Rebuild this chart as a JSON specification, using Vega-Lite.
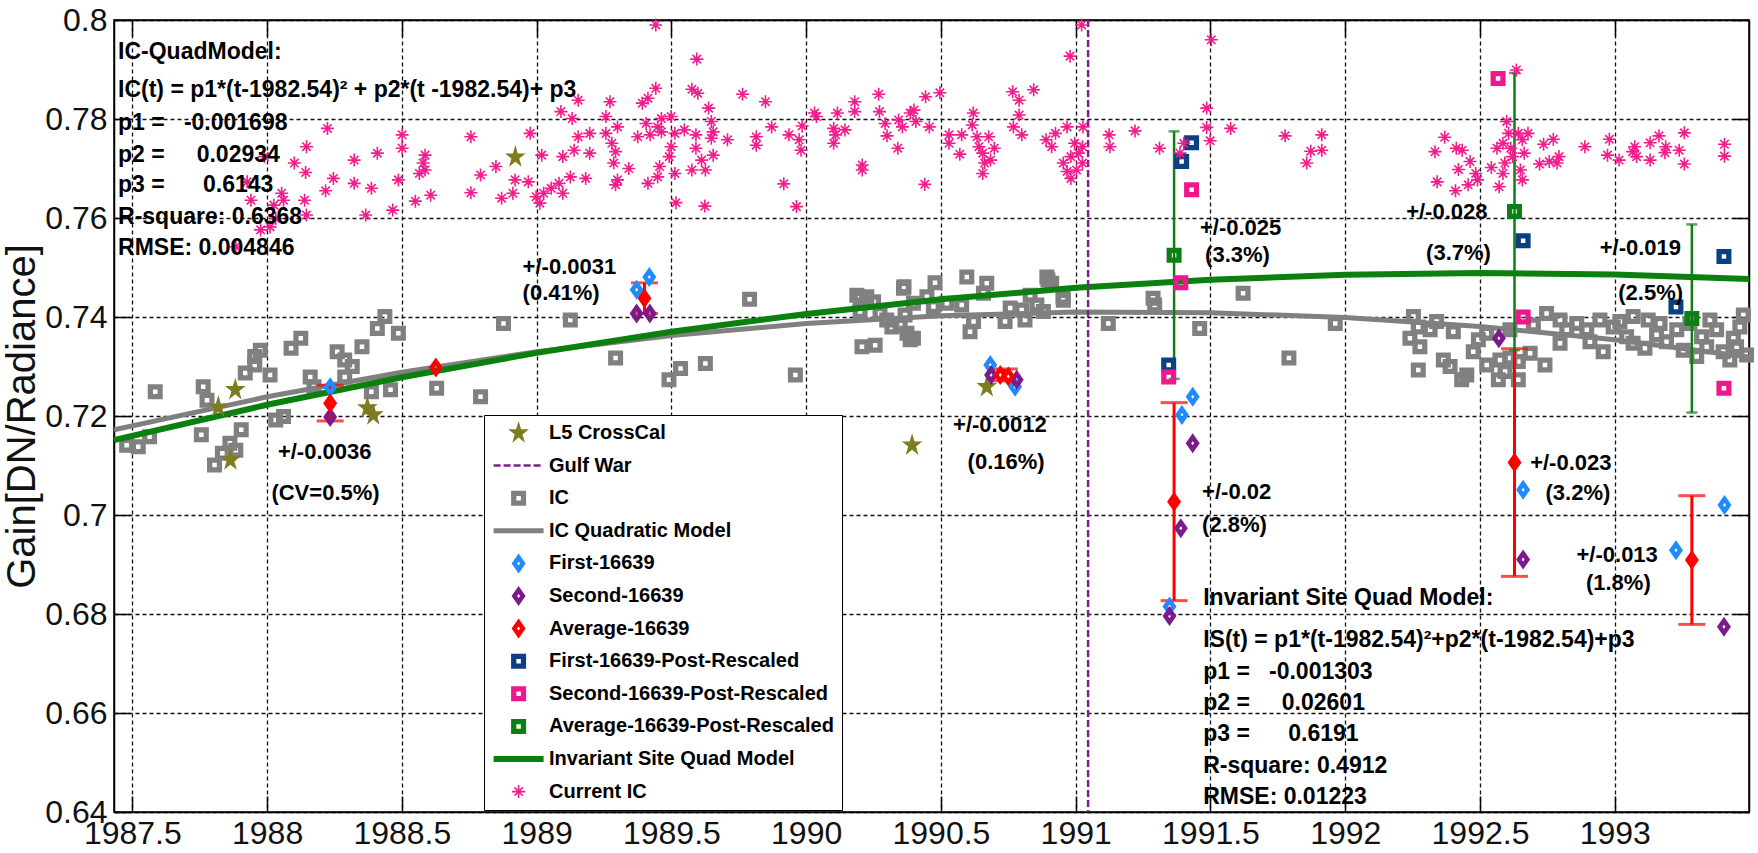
{
  "$schema": "https://vega.github.io/schema/vega-lite/v6.json",
  "width": 1635,
  "height": 792,
  "autosize": {"type": "none"},
  "padding": {"left": 114, "top": 20, "right": 9, "bottom": 41},
  "background": "#ffffff",
  "config": {
    "view": {"stroke": "#000000", "strokeWidth": 1.5}
  },
  "resolve": {"axis": {"x": "independent", "y": "independent"}},
  "datasets": {
    "ic": [
      {"series":"IC","year":1987.585,"gain":0.7249},{"series":"IC","year":1987.479,"gain":0.7141},{"series":"IC","year":1987.522,"gain":0.7138},
      {"series":"IC","year":1987.564,"gain":0.7158},{"series":"IC","year":1987.763,"gain":0.7259},{"series":"IC","year":1987.777,"gain":0.7232},
      {"series":"IC","year":1987.756,"gain":0.7162},{"series":"IC","year":1987.805,"gain":0.7101},{"series":"IC","year":1987.834,"gain":0.7125},
      {"series":"IC","year":1987.862,"gain":0.7145},{"series":"IC","year":1987.884,"gain":0.7131},{"series":"IC","year":1987.904,"gain":0.7172},
      {"series":"IC","year":1987.919,"gain":0.7287},{"series":"IC","year":1987.954,"gain":0.7303},{"series":"IC","year":1987.975,"gain":0.7333},
      {"series":"IC","year":1987.954,"gain":0.732},{"series":"IC","year":1988.011,"gain":0.7283},{"series":"IC","year":1988.032,"gain":0.7192},
      {"series":"IC","year":1988.061,"gain":0.7199},{"series":"IC","year":1988.089,"gain":0.7337},{"series":"IC","year":1988.125,"gain":0.7357},
      {"series":"IC","year":1988.16,"gain":0.7279},{"series":"IC","year":1988.174,"gain":0.7259},{"series":"IC","year":1988.26,"gain":0.733},
      {"series":"IC","year":1988.288,"gain":0.7313},{"series":"IC","year":1988.316,"gain":0.73},{"series":"IC","year":1988.352,"gain":0.734},
      {"series":"IC","year":1988.387,"gain":0.7249},{"series":"IC","year":1988.409,"gain":0.7377},{"series":"IC","year":1988.437,"gain":0.7401},
      {"series":"IC","year":1988.458,"gain":0.7253},{"series":"IC","year":1988.487,"gain":0.7367},{"series":"IC","year":1988.629,"gain":0.7256},
      {"series":"IC","year":1988.792,"gain":0.7239},{"series":"IC","year":1988.877,"gain":0.7387},{"series":"IC","year":1989.125,"gain":0.7394},
      {"series":"IC","year":1988.288,"gain":0.7279},{"series":"IC","year":1989.293,"gain":0.7317},{"series":"IC","year":1989.491,"gain":0.7273},
      {"series":"IC","year":1989.534,"gain":0.7296},{"series":"IC","year":1989.626,"gain":0.7306},{"series":"IC","year":1989.79,"gain":0.7436},
      {"series":"IC","year":1989.96,"gain":0.7283},{"series":"IC","year":1990.207,"gain":0.734},{"series":"IC","year":1990.256,"gain":0.7343},
      {"series":"IC","year":1990.2,"gain":0.7438},{"series":"IC","year":1990.225,"gain":0.7441},{"series":"IC","year":1990.25,"gain":0.7431},
      {"series":"IC","year":1990.299,"gain":0.7394},{"series":"IC","year":1990.349,"gain":0.7384},{"series":"IC","year":1990.374,"gain":0.7367},
      {"series":"IC","year":1990.398,"gain":0.7357},{"series":"IC","year":1990.361,"gain":0.7458},{"series":"IC","year":1990.398,"gain":0.7428},
      {"series":"IC","year":1990.448,"gain":0.7441},{"series":"IC","year":1990.478,"gain":0.7469},{"series":"IC","year":1990.472,"gain":0.7421},
      {"series":"IC","year":1990.522,"gain":0.7428},{"series":"IC","year":1990.596,"gain":0.7481},{"series":"IC","year":1990.577,"gain":0.7424},
      {"series":"IC","year":1990.621,"gain":0.7391},{"series":"IC","year":1990.608,"gain":0.737},{"series":"IC","year":1990.67,"gain":0.7468},
      {"series":"IC","year":1990.658,"gain":0.7448},{"series":"IC","year":1990.738,"gain":0.7391},{"series":"IC","year":1990.757,"gain":0.7418},
      {"series":"IC","year":1990.812,"gain":0.7394},{"series":"IC","year":1990.8,"gain":0.7414},{"series":"IC","year":1990.831,"gain":0.7444},
      {"series":"IC","year":1990.856,"gain":0.7424},{"series":"IC","year":1990.893,"gain":0.7481},{"series":"IC","year":1990.911,"gain":0.7468},
      {"series":"IC","year":1990.88,"gain":0.7411},{"series":"IC","year":1990.954,"gain":0.7434},{"series":"IC","year":1991.121,"gain":0.7387},
      {"series":"IC","year":1991.293,"gain":0.7424},{"series":"IC","year":1991.46,"gain":0.7377},{"series":"IC","year":1991.621,"gain":0.7448},
      {"series":"IC","year":1991.791,"gain":0.7317},{"series":"IC","year":1991.963,"gain":0.7387},
      {"series":"IC","year":1992.253,"gain":0.7401},{"series":"IC","year":1992.271,"gain":0.738},{"series":"IC","year":1992.24,"gain":0.7357},
      {"series":"IC","year":1992.277,"gain":0.734},{"series":"IC","year":1992.271,"gain":0.7293},{"series":"IC","year":1992.315,"gain":0.7374},
      {"series":"IC","year":1992.339,"gain":0.7391},{"series":"IC","year":1992.364,"gain":0.7313},{"series":"IC","year":1992.389,"gain":0.73},
      {"series":"IC","year":1992.432,"gain":0.7273},{"series":"IC","year":1992.451,"gain":0.7283},{"series":"IC","year":1992.401,"gain":0.737},
      {"series":"IC","year":1992.475,"gain":0.733},{"series":"IC","year":1992.494,"gain":0.7354},{"series":"IC","year":1992.525,"gain":0.7303},
      {"series":"IC","year":1992.568,"gain":0.7273},{"series":"IC","year":1992.574,"gain":0.7313},{"series":"IC","year":1992.611,"gain":0.7317},
      {"series":"IC","year":1992.642,"gain":0.731},{"series":"IC","year":1992.642,"gain":0.7273},{"series":"IC","year":1992.593,"gain":0.729},
      {"series":"IC","year":1992.686,"gain":0.7327},{"series":"IC","year":1992.741,"gain":0.7303},{"series":"IC","year":1992.525,"gain":0.7367},
      {"series":"IC","year":1992.611,"gain":0.7374},{"series":"IC","year":1992.698,"gain":0.7384},{"series":"IC","year":1992.747,"gain":0.7407},
      {"series":"IC","year":1992.797,"gain":0.7394},{"series":"IC","year":1992.822,"gain":0.7374},{"series":"IC","year":1992.797,"gain":0.7347},
      {"series":"IC","year":1992.859,"gain":0.7387},{"series":"IC","year":1992.896,"gain":0.7374},{"series":"IC","year":1992.908,"gain":0.735},
      {"series":"IC","year":1992.945,"gain":0.7394},{"series":"IC","year":1992.957,"gain":0.733},{"series":"IC","year":1992.994,"gain":0.738},
      {"series":"IC","year":1993.019,"gain":0.7391},{"series":"IC","year":1993.044,"gain":0.736},{"series":"IC","year":1993.068,"gain":0.7347},
      {"series":"IC","year":1993.112,"gain":0.7337},{"series":"IC","year":1993.124,"gain":0.7394},{"series":"IC","year":1993.155,"gain":0.7364},
      {"series":"IC","year":1993.168,"gain":0.7387},{"series":"IC","year":1993.192,"gain":0.735},{"series":"IC","year":1993.23,"gain":0.7374},
      {"series":"IC","year":1993.254,"gain":0.7333},{"series":"IC","year":1993.322,"gain":0.736},{"series":"IC","year":1993.341,"gain":0.734},
      {"series":"IC","year":1993.378,"gain":0.7374},{"series":"IC","year":1993.402,"gain":0.733},{"series":"IC","year":1993.427,"gain":0.7313},
      {"series":"IC","year":1993.44,"gain":0.7357},{"series":"IC","year":1993.464,"gain":0.738},{"series":"IC","year":1993.477,"gain":0.7404},
      {"series":"IC","year":1993.489,"gain":0.7323},{"series":"IC","year":1993.353,"gain":0.7394},{"series":"IC","year":1993.279,"gain":0.7387},
      {"series":"IC","year":1993.068,"gain":0.7401},{"series":"IC","year":1993.452,"gain":0.734},{"series":"IC","year":1993.304,"gain":0.732},
      {"series":"IC","year":1990.363,"gain":0.7461},{"series":"IC","year":1990.897,"gain":0.7475},{"series":"IC","year":1990.953,"gain":0.744},
      {"series":"IC","year":1991.287,"gain":0.7438},{"series":"IC","year":1990.188,"gain":0.7444},{"series":"IC","year":1990.2,"gain":0.7411},
      {"series":"IC","year":1990.274,"gain":0.7407},{"series":"IC","year":1990.318,"gain":0.738},{"series":"IC","year":1990.386,"gain":0.7354},
      {"series":"IC","year":1990.367,"gain":0.7404}
    ],
    "current": [
      {"series":"Current IC","year":1989.154,"gain":0.7838},{"series":"Current IC","year":1989.09,"gain":0.7815},{"series":"Current IC","year":1989.132,"gain":0.7801},
      {"series":"Current IC","year":1988.224,"gain":0.7781},{"series":"Current IC","year":1988.501,"gain":0.7768},{"series":"Current IC","year":1988.501,"gain":0.7741},
      {"series":"Current IC","year":1988.756,"gain":0.7764},{"series":"Current IC","year":1988.976,"gain":0.7771},{"series":"Current IC","year":1988.146,"gain":0.7744},
      {"series":"Current IC","year":1988.409,"gain":0.7731},{"series":"Current IC","year":1988.323,"gain":0.7717},{"series":"Current IC","year":1988.101,"gain":0.7711},
      {"series":"Current IC","year":1988.586,"gain":0.7727},{"series":"Current IC","year":1988.579,"gain":0.7711},{"series":"Current IC","year":1989.019,"gain":0.7727},
      {"series":"Current IC","year":1988.586,"gain":0.7697},{"series":"Current IC","year":1987.99,"gain":0.7724},{"series":"Current IC","year":1988.143,"gain":0.7692},
      {"series":"Current IC","year":1988.246,"gain":0.768},{"series":"Current IC","year":1988.487,"gain":0.7677},{"series":"Current IC","year":1988.565,"gain":0.769},
      {"series":"Current IC","year":1988.792,"gain":0.7687},{"series":"Current IC","year":1988.849,"gain":0.7704},{"series":"Current IC","year":1988.92,"gain":0.7677},
      {"series":"Current IC","year":1988.969,"gain":0.7673},{"series":"Current IC","year":1988.323,"gain":0.767},{"series":"Current IC","year":1988.387,"gain":0.766},
      {"series":"Current IC","year":1988.217,"gain":0.7655},{"series":"Current IC","year":1988.756,"gain":0.7651},{"series":"Current IC","year":1988.55,"gain":0.7634},
      {"series":"Current IC","year":1988.607,"gain":0.7646},{"series":"Current IC","year":1988.87,"gain":0.764},{"series":"Current IC","year":1988.912,"gain":0.765},
      {"series":"Current IC","year":1988.998,"gain":0.7643},{"series":"Current IC","year":1989.026,"gain":0.765},{"series":"Current IC","year":1989.054,"gain":0.766},
      {"series":"Current IC","year":1989.083,"gain":0.767},{"series":"Current IC","year":1989.012,"gain":0.763},{"series":"Current IC","year":1989.097,"gain":0.765},
      {"series":"Current IC","year":1989.125,"gain":0.7683},{"series":"Current IC","year":1989.182,"gain":0.768},{"series":"Current IC","year":1989.097,"gain":0.7724},
      {"series":"Current IC","year":1989.139,"gain":0.7737},{"series":"Current IC","year":1989.197,"gain":0.7731},{"series":"Current IC","year":1989.154,"gain":0.7764},
      {"series":"Current IC","year":1989.197,"gain":0.7771},{"series":"Current IC","year":1988.054,"gain":0.765},{"series":"Current IC","year":1988.061,"gain":0.7636},
      {"series":"Current IC","year":1988.025,"gain":0.7626},{"series":"Current IC","year":1988.139,"gain":0.7636},{"series":"Current IC","year":1988.146,"gain":0.7606},
      {"series":"Current IC","year":1987.94,"gain":0.7636},{"series":"Current IC","year":1987.926,"gain":0.7673},{"series":"Current IC","year":1987.976,"gain":0.7576},
      {"series":"Current IC","year":1988.011,"gain":0.7582},{"series":"Current IC","year":1988.032,"gain":0.7599},{"series":"Current IC","year":1987.884,"gain":0.7542},
      {"series":"Current IC","year":1988.366,"gain":0.7606},{"series":"Current IC","year":1988.466,"gain":0.7616},
      {"series":"Current IC","year":1989.442,"gain":0.799},{"series":"Current IC","year":1989.594,"gain":0.7921},{"series":"Current IC","year":1989.576,"gain":0.786},
      {"series":"Current IC","year":1989.598,"gain":0.7852},{"series":"Current IC","year":1989.442,"gain":0.7862},{"series":"Current IC","year":1989.272,"gain":0.7835},
      {"series":"Current IC","year":1989.413,"gain":0.7842},{"series":"Current IC","year":1989.392,"gain":0.7832},{"series":"Current IC","year":1989.638,"gain":0.7822},
      {"series":"Current IC","year":1989.764,"gain":0.785},{"series":"Current IC","year":1989.849,"gain":0.7835},{"series":"Current IC","year":1989.257,"gain":0.7805},
      {"series":"Current IC","year":1989.3,"gain":0.7784},{"series":"Current IC","year":1989.257,"gain":0.7771},{"series":"Current IC","year":1989.279,"gain":0.7751},
      {"series":"Current IC","year":1989.293,"gain":0.7734},{"series":"Current IC","year":1989.286,"gain":0.7711},{"series":"Current IC","year":1989.342,"gain":0.77},
      {"series":"Current IC","year":1989.3,"gain":0.7677},{"series":"Current IC","year":1989.293,"gain":0.7667},{"series":"Current IC","year":1989.406,"gain":0.7791},
      {"series":"Current IC","year":1989.449,"gain":0.7784},{"series":"Current IC","year":1989.463,"gain":0.7801},{"series":"Current IC","year":1989.375,"gain":0.7764},
      {"series":"Current IC","year":1989.421,"gain":0.7768},{"series":"Current IC","year":1989.463,"gain":0.7774},{"series":"Current IC","year":1989.499,"gain":0.7805},
      {"series":"Current IC","year":1989.513,"gain":0.7771},{"series":"Current IC","year":1989.548,"gain":0.7778},{"series":"Current IC","year":1989.492,"gain":0.7724},
      {"series":"Current IC","year":1989.499,"gain":0.7744},{"series":"Current IC","year":1989.456,"gain":0.7704},{"series":"Current IC","year":1989.449,"gain":0.7683},
      {"series":"Current IC","year":1989.413,"gain":0.767},{"series":"Current IC","year":1989.513,"gain":0.769},{"series":"Current IC","year":1989.517,"gain":0.7631},
      {"series":"Current IC","year":1989.591,"gain":0.7768},{"series":"Current IC","year":1989.591,"gain":0.7741},{"series":"Current IC","year":1989.612,"gain":0.7717},
      {"series":"Current IC","year":1989.626,"gain":0.7697},{"series":"Current IC","year":1989.576,"gain":0.7697},{"series":"Current IC","year":1989.655,"gain":0.7774},
      {"series":"Current IC","year":1989.648,"gain":0.7761},{"series":"Current IC","year":1989.655,"gain":0.7727},{"series":"Current IC","year":1989.648,"gain":0.7795},
      {"series":"Current IC","year":1989.624,"gain":0.7624},{"series":"Current IC","year":1989.708,"gain":0.7758},{"series":"Current IC","year":1989.815,"gain":0.7764},
      {"series":"Current IC","year":1989.815,"gain":0.7747},{"series":"Current IC","year":1989.872,"gain":0.7784},{"series":"Current IC","year":1989.936,"gain":0.7768},
      {"series":"Current IC","year":1989.917,"gain":0.7669},{"series":"Current IC","year":1989.964,"gain":0.7623},{"series":"Current IC","year":1989.974,"gain":0.7758},
      {"series":"Current IC","year":1989.981,"gain":0.7737},{"series":"Current IC","year":1989.985,"gain":0.7786},{"series":"Current IC","year":1990.031,"gain":0.7812},
      {"series":"Current IC","year":1990.038,"gain":0.7805},{"series":"Current IC","year":1990.116,"gain":0.7812},{"series":"Current IC","year":1990.18,"gain":0.7835},
      {"series":"Current IC","year":1990.18,"gain":0.7815},{"series":"Current IC","year":1990.102,"gain":0.7781},{"series":"Current IC","year":1990.109,"gain":0.7768},
      {"series":"Current IC","year":1990.102,"gain":0.7751},{"series":"Current IC","year":1990.144,"gain":0.7778},{"series":"Current IC","year":1990.208,"gain":0.7707},
      {"series":"Current IC","year":1990.208,"gain":0.7697},{"series":"Current IC","year":1990.269,"gain":0.785},{"series":"Current IC","year":1990.272,"gain":0.7815},
      {"series":"Current IC","year":1990.293,"gain":0.7791},{"series":"Current IC","year":1990.3,"gain":0.7766},{"series":"Current IC","year":1990.34,"gain":0.7741},
      {"series":"Current IC","year":1990.343,"gain":0.7798},{"series":"Current IC","year":1990.357,"gain":0.7784},{"series":"Current IC","year":1990.386,"gain":0.7812},
      {"series":"Current IC","year":1990.4,"gain":0.7818},{"series":"Current IC","year":1990.407,"gain":0.7795},{"series":"Current IC","year":1990.443,"gain":0.7845},
      {"series":"Current IC","year":1990.457,"gain":0.7784},{"series":"Current IC","year":1990.44,"gain":0.7668},{"series":"Current IC","year":1990.496,"gain":0.7853},
      {"series":"Current IC","year":1990.53,"gain":0.7768},{"series":"Current IC","year":1990.53,"gain":0.7751},{"series":"Current IC","year":1990.57,"gain":0.7729},
      {"series":"Current IC","year":1990.577,"gain":0.7768},{"series":"Current IC","year":1990.62,"gain":0.7812},{"series":"Current IC","year":1990.616,"gain":0.7788},
      {"series":"Current IC","year":1990.634,"gain":0.7764},{"series":"Current IC","year":1990.641,"gain":0.7744},{"series":"Current IC","year":1990.655,"gain":0.7731},
      {"series":"Current IC","year":1990.662,"gain":0.7711},{"series":"Current IC","year":1990.684,"gain":0.7717},{"series":"Current IC","year":1990.655,"gain":0.769},
      {"series":"Current IC","year":1990.677,"gain":0.7764},{"series":"Current IC","year":1990.698,"gain":0.7741},{"series":"Current IC","year":1990.766,"gain":0.7855},
      {"series":"Current IC","year":1990.79,"gain":0.7838},{"series":"Current IC","year":1990.79,"gain":0.7808},{"series":"Current IC","year":1990.769,"gain":0.7784},
      {"series":"Current IC","year":1990.8,"gain":0.7768},{"series":"Current IC","year":1990.844,"gain":0.7859},{"series":"Current IC","year":1990.89,"gain":0.7758},
      {"series":"Current IC","year":1990.925,"gain":0.7771},{"series":"Current IC","year":1990.911,"gain":0.7744},{"series":"Current IC","year":1990.968,"gain":0.7784},
      {"series":"Current IC","year":1990.979,"gain":0.7927},{"series":"Current IC","year":1990.954,"gain":0.7711},{"series":"Current IC","year":1990.968,"gain":0.7694},
      {"series":"Current IC","year":1990.982,"gain":0.768},{"series":"Current IC","year":1990.996,"gain":0.7751},{"series":"Current IC","year":1991.01,"gain":0.7731},
      {"series":"Current IC","year":1991.025,"gain":0.7711},{"series":"Current IC","year":1991.003,"gain":0.7697},{"series":"Current IC","year":1990.982,"gain":0.7724},
      {"series":"Current IC","year":1991.025,"gain":0.7744},{"series":"Current IC","year":1991.027,"gain":0.7784},{"series":"Current IC","year":1991.022,"gain":0.799},
      {"series":"Current IC","year":1991.124,"gain":0.7768},{"series":"Current IC","year":1991.127,"gain":0.7744},{"series":"Current IC","year":1991.22,"gain":0.7776},
      {"series":"Current IC","year":1991.311,"gain":0.7741},{"series":"Current IC","year":1991.401,"gain":0.7751},{"series":"Current IC","year":1991.387,"gain":0.7731},
      {"series":"Current IC","year":1991.486,"gain":0.7822},{"series":"Current IC","year":1991.486,"gain":0.7783},{"series":"Current IC","year":1991.499,"gain":0.7756},
      {"series":"Current IC","year":1991.575,"gain":0.7781},{"series":"Current IC","year":1991.777,"gain":0.7766},{"series":"Current IC","year":1991.913,"gain":0.7768},
      {"series":"Current IC","year":1991.872,"gain":0.7735},{"series":"Current IC","year":1991.913,"gain":0.7737},{"series":"Current IC","year":1991.857,"gain":0.7711},
      {"series":"Current IC","year":1991.503,"gain":0.796},
      {"series":"Current IC","year":1992.369,"gain":0.7763},{"series":"Current IC","year":1992.333,"gain":0.7734},{"series":"Current IC","year":1992.341,"gain":0.7673},
      {"series":"Current IC","year":1992.409,"gain":0.7655},{"series":"Current IC","year":1992.412,"gain":0.7741},{"series":"Current IC","year":1992.434,"gain":0.7737},
      {"series":"Current IC","year":1992.42,"gain":0.7698},{"series":"Current IC","year":1992.463,"gain":0.7714},{"series":"Current IC","year":1992.456,"gain":0.7667},
      {"series":"Current IC","year":1992.484,"gain":0.769},{"series":"Current IC","year":1992.491,"gain":0.7677},{"series":"Current IC","year":1992.542,"gain":0.7702},
      {"series":"Current IC","year":1992.563,"gain":0.7741},{"series":"Current IC","year":1992.599,"gain":0.7795},{"series":"Current IC","year":1992.606,"gain":0.7771},
      {"series":"Current IC","year":1992.585,"gain":0.7751},{"series":"Current IC","year":1992.614,"gain":0.7741},{"series":"Current IC","year":1992.635,"gain":0.7899},
      {"series":"Current IC","year":1992.642,"gain":0.7771},{"series":"Current IC","year":1992.657,"gain":0.7758},{"series":"Current IC","year":1992.664,"gain":0.7731},
      {"series":"Current IC","year":1992.678,"gain":0.7771},{"series":"Current IC","year":1992.571,"gain":0.7663},{"series":"Current IC","year":1992.585,"gain":0.769},
      {"series":"Current IC","year":1992.592,"gain":0.7711},{"series":"Current IC","year":1992.65,"gain":0.7697},{"series":"Current IC","year":1992.657,"gain":0.7677},
      {"series":"Current IC","year":1992.621,"gain":0.7724},{"series":"Current IC","year":1992.736,"gain":0.7749},{"series":"Current IC","year":1992.772,"gain":0.7759},
      {"series":"Current IC","year":1992.721,"gain":0.7709},{"series":"Current IC","year":1992.757,"gain":0.7714},{"series":"Current IC","year":1992.793,"gain":0.7724},
      {"series":"Current IC","year":1992.786,"gain":0.7711},{"series":"Current IC","year":1992.889,"gain":0.7744},{"series":"Current IC","year":1992.98,"gain":0.7759},
      {"series":"Current IC","year":1992.973,"gain":0.7727},{"series":"Current IC","year":1993.016,"gain":0.7717},{"series":"Current IC","year":1993.066,"gain":0.7734},
      {"series":"Current IC","year":1993.074,"gain":0.7744},{"series":"Current IC","year":1993.081,"gain":0.7724},{"series":"Current IC","year":1993.131,"gain":0.7752},
      {"series":"Current IC","year":1993.131,"gain":0.7717},{"series":"Current IC","year":1993.164,"gain":0.7766},{"series":"Current IC","year":1993.189,"gain":0.7744},
      {"series":"Current IC","year":1993.186,"gain":0.7732},{"series":"Current IC","year":1993.239,"gain":0.7737},{"series":"Current IC","year":1993.258,"gain":0.7772},
      {"series":"Current IC","year":1993.258,"gain":0.7709},{"series":"Current IC","year":1993.407,"gain":0.7749},{"series":"Current IC","year":1993.407,"gain":0.7725}
    ],
    "stars": [
      {"series":"L5 CrossCal","year":1987.882,"gain":0.7253},{"series":"L5 CrossCal","year":1987.819,"gain":0.7218},
      {"series":"L5 CrossCal","year":1987.864,"gain":0.7111},{"series":"L5 CrossCal","year":1988.372,"gain":0.7216},
      {"series":"L5 CrossCal","year":1988.394,"gain":0.7202},{"series":"L5 CrossCal","year":1988.921,"gain":0.7723},
      {"series":"L5 CrossCal","year":1990.67,"gain":0.7259},{"series":"L5 CrossCal","year":1990.393,"gain":0.7141}
    ],
    "diamonds": [
      {"series":"First-16639","year":1988.234,"gain":0.7258},{"series":"First-16639","year":1989.371,"gain":0.7455},
      {"series":"First-16639","year":1989.418,"gain":0.7481},{"series":"First-16639","year":1990.683,"gain":0.7303},
      {"series":"First-16639","year":1990.775,"gain":0.7259},{"series":"First-16639","year":1991.434,"gain":0.7239},
      {"series":"First-16639","year":1991.394,"gain":0.7202},{"series":"First-16639","year":1991.348,"gain":0.6815},
      {"series":"First-16639","year":1992.66,"gain":0.7051},{"series":"First-16639","year":1993.407,"gain":0.702},
      {"series":"First-16639","year":1993.227,"gain":0.6929},
      {"series":"Second-16639","year":1988.234,"gain":0.7198},{"series":"Second-16639","year":1989.371,"gain":0.7407},
      {"series":"Second-16639","year":1989.42,"gain":0.7407},{"series":"Second-16639","year":1990.686,"gain":0.7283},
      {"series":"Second-16639","year":1990.781,"gain":0.7273},{"series":"Second-16639","year":1991.434,"gain":0.7145},
      {"series":"Second-16639","year":1991.39,"gain":0.6973},{"series":"Second-16639","year":1991.348,"gain":0.6796},
      {"series":"Second-16639","year":1992.66,"gain":0.691},{"series":"Second-16639","year":1992.57,"gain":0.7357},
      {"series":"Second-16639","year":1993.405,"gain":0.6774},
      {"series":"Average-16639","year":1988.234,"gain":0.7226},{"series":"Average-16639","year":1988.626,"gain":0.7298},
      {"series":"Average-16639","year":1989.4,"gain":0.7438},{"series":"Average-16639","year":1990.72,"gain":0.7283},
      {"series":"Average-16639","year":1990.75,"gain":0.728},{"series":"Average-16639","year":1991.365,"gain":0.7027},
      {"series":"Average-16639","year":1992.628,"gain":0.7106},{"series":"Average-16639","year":1993.286,"gain":0.6909}
    ],
    "post": [
      {"series":"First-16639-Post-Rescaled","year":1991.43,"gain":0.7752},{"series":"First-16639-Post-Rescaled","year":1991.393,"gain":0.7714},
      {"series":"First-16639-Post-Rescaled","year":1991.345,"gain":0.7303},{"series":"First-16639-Post-Rescaled","year":1992.66,"gain":0.7554},
      {"series":"First-16639-Post-Rescaled","year":1993.405,"gain":0.7522},{"series":"First-16639-Post-Rescaled","year":1993.227,"gain":0.742},
      {"series":"Second-16639-Post-Rescaled","year":1991.43,"gain":0.7657},{"series":"Second-16639-Post-Rescaled","year":1991.39,"gain":0.7469},
      {"series":"Second-16639-Post-Rescaled","year":1991.345,"gain":0.7279},{"series":"Second-16639-Post-Rescaled","year":1992.567,"gain":0.7882},
      {"series":"Second-16639-Post-Rescaled","year":1992.66,"gain":0.74},{"series":"Second-16639-Post-Rescaled","year":1993.405,"gain":0.7256},
      {"series":"Average-16639-Post-Rescaled","year":1991.365,"gain":0.7525},{"series":"Average-16639-Post-Rescaled","year":1992.628,"gain":0.7613},
      {"series":"Average-16639-Post-Rescaled","year":1993.286,"gain":0.7397}
    ],
    "err_avg": [
      {"series":"Average-16639","year":1988.234,"gain":0.7226,"err":0.0036},
      {"series":"Average-16639","year":1989.4,"gain":0.7438,"err":0.0031},
      {"series":"Average-16639","year":1990.735,"gain":0.7283,"err":0.0012},
      {"series":"Average-16639","year":1991.365,"gain":0.7027,"err":0.02},
      {"series":"Average-16639","year":1992.628,"gain":0.7106,"err":0.023},
      {"series":"Average-16639","year":1993.286,"gain":0.6909,"err":0.013}
    ],
    "err_post": [
      {"series":"Average-16639-Post-Rescaled","year":1991.365,"gain":0.7525,"err":0.025},
      {"series":"Average-16639-Post-Rescaled","year":1992.628,"gain":0.7613,"err":0.028},
      {"series":"Average-16639-Post-Rescaled","year":1993.286,"gain":0.7397,"err":0.019}
    ],
    "ic_model": [
      {"series":"IC Quadratic Model","year":1987.432,"gain":0.71719},{"series":"IC Quadratic Model","year":1988,"gain":0.72388},
      {"series":"IC Quadratic Model","year":1988.5,"gain":0.72885},{"series":"IC Quadratic Model","year":1989,"gain":0.73298},
      {"series":"IC Quadratic Model","year":1989.5,"gain":0.73625},{"series":"IC Quadratic Model","year":1990,"gain":0.73868},
      {"series":"IC Quadratic Model","year":1990.5,"gain":0.74026},{"series":"IC Quadratic Model","year":1991,"gain":0.74099},
      {"series":"IC Quadratic Model","year":1991.5,"gain":0.74087},{"series":"IC Quadratic Model","year":1992,"gain":0.7399},
      {"series":"IC Quadratic Model","year":1992.5,"gain":0.73808},{"series":"IC Quadratic Model","year":1993,"gain":0.73542},
      {"series":"IC Quadratic Model","year":1993.5,"gain":0.7319}
    ],
    "is_model": [
      {"series":"Invariant Site Quad Model","year":1987.432,"gain":0.71516},{"series":"Invariant Site Quad Model","year":1988,"gain":0.72227},
      {"series":"Invariant Site Quad Model","year":1988.5,"gain":0.72784},{"series":"Invariant Site Quad Model","year":1989,"gain":0.73275},
      {"series":"Invariant Site Quad Model","year":1989.5,"gain":0.73701},{"series":"Invariant Site Quad Model","year":1990,"gain":0.74062},
      {"series":"Invariant Site Quad Model","year":1990.5,"gain":0.74358},{"series":"Invariant Site Quad Model","year":1991,"gain":0.74589},
      {"series":"Invariant Site Quad Model","year":1991.5,"gain":0.74754},{"series":"Invariant Site Quad Model","year":1992,"gain":0.74855},
      {"series":"Invariant Site Quad Model","year":1992.5,"gain":0.7489},{"series":"Invariant Site Quad Model","year":1993,"gain":0.7486},
      {"series":"Invariant Site Quad Model","year":1993.5,"gain":0.74765}
    ],
    "gulf": [{"series":"Gulf War","year":1991.046}],
    "legend_items": [
      {"series":"L5 CrossCal"},{"series":"Gulf War"},{"series":"IC"},{"series":"IC Quadratic Model"},
      {"series":"First-16639"},{"series":"Second-16639"},{"series":"Average-16639"},
      {"series":"First-16639-Post-Rescaled"},{"series":"Second-16639-Post-Rescaled"},{"series":"Average-16639-Post-Rescaled"},
      {"series":"Invariant Site Quad Model"},{"series":"Current IC"}
    ],
    "notes": [
      {"text":"+/-0.0036","year":1988.04,"gain":0.7128},{"text":"(CV=0.5%)","year":1988.016,"gain":0.7044},
      {"text":"+/-0.0031","year":1988.948,"gain":0.7502},{"text":"(0.41%)","year":1988.948,"gain":0.7448},
      {"text":"+/-0.0012","year":1990.545,"gain":0.7182},{"text":"(0.16%)","year":1990.599,"gain":0.7108},
      {"text":"+/-0.025","year":1991.461,"gain":0.7579},{"text":"(3.3%)","year":1991.48,"gain":0.7525},
      {"text":"+/-0.02","year":1991.469,"gain":0.7047},{"text":"(2.8%)","year":1991.469,"gain":0.698},
      {"text":"+/-0.028","year":1992.226,"gain":0.7613},{"text":"(3.7%)","year":1992.3,"gain":0.7529},
      {"text":"+/-0.023","year":1992.686,"gain":0.7106},{"text":"(3.2%)","year":1992.743,"gain":0.7044},
      {"text":"+/-0.019","year":1992.944,"gain":0.7539},{"text":"(2.5%)","year":1993.013,"gain":0.7448},
      {"text":"+/-0.013","year":1992.858,"gain":0.6919},{"text":"(1.8%)","year":1992.893,"gain":0.6863}
    ],
    "fits": [
      {"text":"IC-QuadModel:","year":1987.447,"gain":0.7936},
      {"text":"IC(t) = p1*(t-1982.54)\u00b2 + p2*(t -1982.54)+ p3","year":1987.447,"gain":0.7859},
      {"text":"p1 =\u00a0\u00a0\u00a0-0.001698","year":1987.447,"gain":0.7791},
      {"text":"p2 =\u00a0\u00a0\u00a0\u00a0\u00a00.02934","year":1987.447,"gain":0.7727},
      {"text":"p3 =\u00a0\u00a0\u00a0\u00a0\u00a0\u00a00.6143","year":1987.447,"gain":0.7667},
      {"text":"R-square: 0.6368","year":1987.447,"gain":0.7603},
      {"text":"RMSE: 0.004846","year":1987.447,"gain":0.7539},
      {"text":"Invariant Site Quad Model:","year":1991.473,"gain":0.6832},
      {"text":"IS(t) = p1*(t-1982.54)\u00b2+p2*(t-1982.54)+p3","year":1991.473,"gain":0.6747},
      {"text":"p1 =\u00a0\u00a0\u00a0-0.001303","year":1991.473,"gain":0.6683},
      {"text":"p2 =\u00a0\u00a0\u00a0\u00a0\u00a00.02601","year":1991.473,"gain":0.6621},
      {"text":"p3 =\u00a0\u00a0\u00a0\u00a0\u00a0\u00a00.6191","year":1991.473,"gain":0.6558},
      {"text":"R-square: 0.4912","year":1991.473,"gain":0.6493},
      {"text":"RMSE: 0.01223","year":1991.473,"gain":0.643}
    ]
  },
  "layer": [
    {
      "data": {"name": "ic"},
      "mark": {"type": "point", "shape": "M-0.75,-0.75H0.75V0.75H-0.75ZM-0.225,-0.225V0.225H0.225V-0.225Z", "filled": true, "size": 400, "opacity": 1, "strokeWidth": 0},
      "encoding": {
        "x": {"field": "year", "type": "quantitative", "scale": {"domain": [1987.432, 1993.498], "nice": false, "zero": false},
          "axis": {"orient": "bottom", "values": [1987.5, 1988, 1988.5, 1989, 1989.5, 1990, 1990.5, 1991, 1991.5, 1992, 1992.5, 1993],
            "format": ".1~f", "title": null, "grid": true, "gridDash": [4, 3], "gridColor": "#111111", "gridWidth": 1.3, "gridOpacity": 1,
            "tickSize": -16, "tickWidth": 1.5, "tickColor": "#000000", "domainColor": "#000000", "domainWidth": 1.5,
            "labelFont": "Liberation Sans Narrow, Arial Narrow, Liberation Sans", "labelFontSize": 32, "labelColor": "#111111",
            "labelPadding": 22, "labelFlush": false, "labelOverlap": false}},
        "y": {"field": "gain", "type": "quantitative", "scale": {"domain": [0.64, 0.8], "nice": false, "zero": false},
          "axis": {"orient": "left", "values": [0.64, 0.66, 0.68, 0.7, 0.72, 0.74, 0.76, 0.78, 0.8],
            "format": ".2~f", "title": "Gain[DN/Radiance]", "titleFont": "Liberation Sans", "titleFontSize": 40, "titleFontWeight": "normal",
            "titleColor": "#111111", "titlePadding": 2,
            "grid": true, "gridDash": [4, 3], "gridColor": "#111111", "gridWidth": 1.3, "gridOpacity": 1,
            "tickSize": -16, "tickWidth": 1.5, "tickColor": "#000000", "domainColor": "#000000", "domainWidth": 1.5,
            "labelFont": "Liberation Sans Narrow, Arial Narrow, Liberation Sans", "labelFontSize": 32, "labelColor": "#111111",
            "labelPadding": 23, "labelFlush": false, "labelOverlap": false}},
        "color": {"field": "series", "type": "nominal",
          "scale": {
            "domain": ["L5 CrossCal", "Gulf War", "IC", "IC Quadratic Model", "First-16639", "Second-16639", "Average-16639", "First-16639-Post-Rescaled", "Second-16639-Post-Rescaled", "Average-16639-Post-Rescaled", "Invariant Site Quad Model", "Current IC"],
            "range": ["#7d7c1e", "#7f1f8f", "#808080", "#808080", "#1e8cff", "#7a1a8c", "#ff0000", "#0b3f82", "#f0168c", "#0d7f14", "#0b800f", "#f21c8d"]}}
      }
    },
    {
      "data": {"name": "ic_model"},
      "mark": {"type": "line", "strokeWidth": 5, "clip": true},
      "encoding": {
        "x": {"field": "year", "type": "quantitative", "scale": {"domain": [1987.432, 1993.498], "nice": false, "zero": false},
          "axis": {"orient": "top", "values": [1987.5, 1988, 1988.5, 1989, 1989.5, 1990, 1990.5, 1991, 1991.5, 1992, 1992.5, 1993],
            "labels": false, "title": null, "grid": false, "tickSize": -16, "tickWidth": 1.5, "tickColor": "#000000", "domainColor": "#000000", "domainWidth": 1.5}},
        "y": {"field": "gain", "type": "quantitative", "scale": {"domain": [0.64, 0.8], "nice": false, "zero": false},
          "axis": {"orient": "right", "values": [0.64, 0.66, 0.68, 0.7, 0.72, 0.74, 0.76, 0.78, 0.8],
            "labels": false, "title": null, "grid": false, "tickSize": -16, "tickWidth": 1.5, "tickColor": "#000000", "domainColor": "#000000", "domainWidth": 1.5}},
        "color": {"field": "series", "type": "nominal",
          "scale": {
            "domain": ["L5 CrossCal", "Gulf War", "IC", "IC Quadratic Model", "First-16639", "Second-16639", "Average-16639", "First-16639-Post-Rescaled", "Second-16639-Post-Rescaled", "Average-16639-Post-Rescaled", "Invariant Site Quad Model", "Current IC"],
            "range": ["#7d7c1e", "#7f1f8f", "#808080", "#808080", "#1e8cff", "#7a1a8c", "#ff0000", "#0b3f82", "#f0168c", "#0d7f14", "#0b800f", "#f21c8d"]}}
      }
    },
    {
      "data": {"name": "is_model"},
      "mark": {"type": "line", "strokeWidth": 6, "clip": true},
      "encoding": {
        "x": {"field": "year", "type": "quantitative", "scale": {"domain": [1987.432, 1993.498], "nice": false, "zero": false}, "axis": null},
        "y": {"field": "gain", "type": "quantitative", "scale": {"domain": [0.64, 0.8], "nice": false, "zero": false}, "axis": null},
        "color": {"field": "series", "type": "nominal",
          "scale": {
            "domain": ["L5 CrossCal", "Gulf War", "IC", "IC Quadratic Model", "First-16639", "Second-16639", "Average-16639", "First-16639-Post-Rescaled", "Second-16639-Post-Rescaled", "Average-16639-Post-Rescaled", "Invariant Site Quad Model", "Current IC"],
            "range": ["#7d7c1e", "#7f1f8f", "#808080", "#808080", "#1e8cff", "#7a1a8c", "#ff0000", "#0b3f82", "#f0168c", "#0d7f14", "#0b800f", "#f21c8d"]}}
      }
    },
    {
      "data": {"name": "stars"},
      "mark": {"type": "point", "shape": "M0,-1.2L0.243,-0.371L1.027,-0.371L0.392,0.142L0.635,0.971L0,0.458L-0.635,0.971L-0.392,0.142L-1.027,-0.371L-0.243,-0.371Z", "filled": true, "size": 400, "opacity": 1, "strokeWidth": 0},
      "encoding": {
        "x": {"field": "year", "type": "quantitative", "scale": {"domain": [1987.432, 1993.498], "nice": false, "zero": false}, "axis": null},
        "y": {"field": "gain", "type": "quantitative", "scale": {"domain": [0.64, 0.8], "nice": false, "zero": false}, "axis": null},
        "color": {"field": "series", "type": "nominal",
          "scale": {
            "domain": ["L5 CrossCal", "Gulf War", "IC", "IC Quadratic Model", "First-16639", "Second-16639", "Average-16639", "First-16639-Post-Rescaled", "Second-16639-Post-Rescaled", "Average-16639-Post-Rescaled", "Invariant Site Quad Model", "Current IC"],
            "range": ["#7d7c1e", "#7f1f8f", "#808080", "#808080", "#1e8cff", "#7a1a8c", "#ff0000", "#0b3f82", "#f0168c", "#0d7f14", "#0b800f", "#f21c8d"]}}
      }
    },
    {
      "data": {"name": "gulf"},
      "mark": {"type": "rule", "strokeWidth": 2.5, "strokeDash": [7, 3]},
      "encoding": {
        "x": {"field": "year", "type": "quantitative", "scale": {"domain": [1987.432, 1993.498], "nice": false, "zero": false}, "axis": null},
        "color": {"field": "series", "type": "nominal",
          "scale": {
            "domain": ["L5 CrossCal", "Gulf War", "IC", "IC Quadratic Model", "First-16639", "Second-16639", "Average-16639", "First-16639-Post-Rescaled", "Second-16639-Post-Rescaled", "Average-16639-Post-Rescaled", "Invariant Site Quad Model", "Current IC"],
            "range": ["#7d7c1e", "#7f1f8f", "#808080", "#808080", "#1e8cff", "#7a1a8c", "#ff0000", "#0b3f82", "#f0168c", "#0d7f14", "#0b800f", "#f21c8d"]}}
      }
    },
    {
      "data": {"name": "err_avg"},
      "mark": {"type": "errorbar", "ticks": true, "size": 27, "thickness": 3},
      "encoding": {
        "x": {"field": "year", "type": "quantitative", "scale": {"domain": [1987.432, 1993.498], "nice": false, "zero": false}, "axis": null},
        "y": {"field": "gain", "type": "quantitative", "scale": {"domain": [0.64, 0.8], "nice": false, "zero": false}, "axis": null},
        "yError": {"field": "err"},
        "color": {"field": "series", "type": "nominal",
          "scale": {
            "domain": ["L5 CrossCal", "Gulf War", "IC", "IC Quadratic Model", "First-16639", "Second-16639", "Average-16639", "First-16639-Post-Rescaled", "Second-16639-Post-Rescaled", "Average-16639-Post-Rescaled", "Invariant Site Quad Model", "Current IC"],
            "range": ["#7d7c1e", "#7f1f8f", "#808080", "#808080", "#1e8cff", "#7a1a8c", "#ff0000", "#0b3f82", "#f0168c", "#0d7f14", "#0b800f", "#f21c8d"]}}
      }
    },
    {
      "data": {"name": "err_post"},
      "mark": {"type": "errorbar", "ticks": true, "size": 11, "thickness": 2.5},
      "encoding": {
        "x": {"field": "year", "type": "quantitative", "scale": {"domain": [1987.432, 1993.498], "nice": false, "zero": false}, "axis": null},
        "y": {"field": "gain", "type": "quantitative", "scale": {"domain": [0.64, 0.8], "nice": false, "zero": false}, "axis": null},
        "yError": {"field": "err"},
        "color": {"field": "series", "type": "nominal",
          "scale": {
            "domain": ["L5 CrossCal", "Gulf War", "IC", "IC Quadratic Model", "First-16639", "Second-16639", "Average-16639", "First-16639-Post-Rescaled", "Second-16639-Post-Rescaled", "Average-16639-Post-Rescaled", "Invariant Site Quad Model", "Current IC"],
            "range": ["#7d7c1e", "#7f1f8f", "#808080", "#808080", "#1e8cff", "#7a1a8c", "#ff0000", "#0b3f82", "#f0168c", "#0d7f14", "#0b800f", "#f21c8d"]}}
      }
    },
    {
      "data": {"name": "diamonds"},
      "mark": {"type": "point", "shape": "M0,-1L0.7,0L0,1L-0.7,0ZM0,-0.2L-0.15,0L0,0.2L0.15,0Z", "filled": true, "size": 400, "opacity": 1, "strokeWidth": 0},
      "encoding": {
        "x": {"field": "year", "type": "quantitative", "scale": {"domain": [1987.432, 1993.498], "nice": false, "zero": false}, "axis": null},
        "y": {"field": "gain", "type": "quantitative", "scale": {"domain": [0.64, 0.8], "nice": false, "zero": false}, "axis": null},
        "color": {"field": "series", "type": "nominal",
          "scale": {
            "domain": ["L5 CrossCal", "Gulf War", "IC", "IC Quadratic Model", "First-16639", "Second-16639", "Average-16639", "First-16639-Post-Rescaled", "Second-16639-Post-Rescaled", "Average-16639-Post-Rescaled", "Invariant Site Quad Model", "Current IC"],
            "range": ["#7d7c1e", "#7f1f8f", "#808080", "#808080", "#1e8cff", "#7a1a8c", "#ff0000", "#0b3f82", "#f0168c", "#0d7f14", "#0b800f", "#f21c8d"]}}
      }
    },
    {
      "data": {"name": "post"},
      "mark": {"type": "point", "shape": "M-0.75,-0.75H0.75V0.75H-0.75ZM-0.225,-0.225V0.225H0.225V-0.225Z", "filled": true, "size": 400, "opacity": 1, "strokeWidth": 0},
      "encoding": {
        "x": {"field": "year", "type": "quantitative", "scale": {"domain": [1987.432, 1993.498], "nice": false, "zero": false}, "axis": null},
        "y": {"field": "gain", "type": "quantitative", "scale": {"domain": [0.64, 0.8], "nice": false, "zero": false}, "axis": null},
        "color": {"field": "series", "type": "nominal",
          "scale": {
            "domain": ["L5 CrossCal", "Gulf War", "IC", "IC Quadratic Model", "First-16639", "Second-16639", "Average-16639", "First-16639-Post-Rescaled", "Second-16639-Post-Rescaled", "Average-16639-Post-Rescaled", "Invariant Site Quad Model", "Current IC"],
            "range": ["#7d7c1e", "#7f1f8f", "#808080", "#808080", "#1e8cff", "#7a1a8c", "#ff0000", "#0b3f82", "#f0168c", "#0d7f14", "#0b800f", "#f21c8d"]}}
      }
    },
    {
      "data": {"name": "current"},
      "mark": {"type": "point", "shape": "M-0.65,-0.08H0.65V0.08H-0.65ZM-0.08,-0.65H0.08V0.65H-0.08ZM-0.363,-0.477L0.477,0.363L0.363,0.477L-0.477,-0.363ZM-0.477,0.363L0.363,-0.477L0.477,-0.363L-0.363,0.477Z", "filled": true, "size": 400, "opacity": 1, "strokeWidth": 0},
      "encoding": {
        "x": {"field": "year", "type": "quantitative", "scale": {"domain": [1987.432, 1993.498], "nice": false, "zero": false}, "axis": null},
        "y": {"field": "gain", "type": "quantitative", "scale": {"domain": [0.64, 0.8], "nice": false, "zero": false}, "axis": null},
        "color": {"field": "series", "type": "nominal",
          "scale": {
            "domain": ["L5 CrossCal", "Gulf War", "IC", "IC Quadratic Model", "First-16639", "Second-16639", "Average-16639", "First-16639-Post-Rescaled", "Second-16639-Post-Rescaled", "Average-16639-Post-Rescaled", "Invariant Site Quad Model", "Current IC"],
            "range": ["#7d7c1e", "#7f1f8f", "#808080", "#808080", "#1e8cff", "#7a1a8c", "#ff0000", "#0b3f82", "#f0168c", "#0d7f14", "#0b800f", "#f21c8d"]}}
      }
    },
    {
      "data": {"name": "notes"},
      "mark": {"type": "text", "align": "left", "baseline": "middle", "font": "Liberation Sans", "fontWeight": "bold", "fontSize": 22, "color": "#000000"},
      "encoding": {
        "x": {"field": "year", "type": "quantitative", "scale": {"domain": [1987.432, 1993.498], "nice": false, "zero": false}, "axis": null},
        "y": {"field": "gain", "type": "quantitative", "scale": {"domain": [0.64, 0.8], "nice": false, "zero": false}, "axis": null},
        "text": {"field": "text"}
      }
    },
    {
      "data": {"name": "fits"},
      "mark": {"type": "text", "align": "left", "baseline": "middle", "font": "Liberation Sans", "fontWeight": "bold", "fontSize": 23, "color": "#000000"},
      "encoding": {
        "x": {"field": "year", "type": "quantitative", "scale": {"domain": [1987.432, 1993.498], "nice": false, "zero": false}, "axis": null},
        "y": {"field": "gain", "type": "quantitative", "scale": {"domain": [0.64, 0.8], "nice": false, "zero": false}, "axis": null},
        "text": {"field": "text"}
      }
    },
    {
      "description": "Legend carrier: one invisible point per series, so the key gets each series' own marker shape.",
      "data": {"name": "legend_items"},
      "mark": {"type": "point", "filled": true, "opacity": 0},
      "encoding": {
        "color": {"field": "series", "type": "nominal",
          "scale": {
            "domain": ["L5 CrossCal", "Gulf War", "IC", "IC Quadratic Model", "First-16639", "Second-16639", "Average-16639", "First-16639-Post-Rescaled", "Second-16639-Post-Rescaled", "Average-16639-Post-Rescaled", "Invariant Site Quad Model", "Current IC"],
            "range": ["#7d7c1e", "#7f1f8f", "#808080", "#808080", "#1e8cff", "#7a1a8c", "#ff0000", "#0b3f82", "#f0168c", "#0d7f14", "#0b800f", "#f21c8d"]},
          "legend": {
            "title": null, "orient": "none", "legendX": 370, "legendY": 395,
            "strokeColor": "#000000", "fillColor": "#ffffff", "padding": 8, "rowPadding": 12.6,
            "labelFont": "Liberation Sans", "labelFontSize": 20, "labelFontWeight": "bold", "labelColor": "#000000", "labelLimit": 400,
            "symbolSize": 400, "symbolStrokeWidth": 0, "symbolOpacity": 1, "labelOffset": 37}},
        "shape": {"field": "series", "type": "nominal",
          "scale": {
            "domain": ["L5 CrossCal", "Gulf War", "IC", "IC Quadratic Model", "First-16639", "Second-16639", "Average-16639", "First-16639-Post-Rescaled", "Second-16639-Post-Rescaled", "Average-16639-Post-Rescaled", "Invariant Site Quad Model", "Current IC"],
            "range": [
              "M1.66,-1.2L1.903,-0.371L2.687,-0.371L2.052,0.142L2.295,0.971L1.66,0.458L1.025,0.971L1.268,0.142L0.633,-0.371L1.417,-0.371Z",
              "M-0.84,-0.125H-0.14V0.125H-0.84ZM0.16,-0.125H0.86V0.125H0.16ZM1.16,-0.125H1.86V0.125H1.16ZM2.16,-0.125H2.86V0.125H2.16ZM3.16,-0.125H3.86V0.125H3.16Z",
              "M0.91,-0.75H2.41V0.75H0.91ZM1.435,-0.225V0.225H1.885V-0.225Z",
              "M-0.84,-0.25H4.16V0.25H-0.84Z",
              "M1.66,-1L2.36,0L1.66,1L0.96,0ZM1.66,-0.2L1.51,0L1.66,0.2L1.81,0Z",
              "M1.66,-1L2.36,0L1.66,1L0.96,0ZM1.66,-0.2L1.51,0L1.66,0.2L1.81,0Z",
              "M1.66,-1L2.36,0L1.66,1L0.96,0ZM1.66,-0.2L1.51,0L1.66,0.2L1.81,0Z",
              "M0.91,-0.75H2.41V0.75H0.91ZM1.435,-0.225V0.225H1.885V-0.225Z",
              "M0.91,-0.75H2.41V0.75H0.91ZM1.435,-0.225V0.225H1.885V-0.225Z",
              "M0.91,-0.75H2.41V0.75H0.91ZM1.435,-0.225V0.225H1.885V-0.225Z",
              "M-0.84,-0.3H4.16V0.3H-0.84Z",
              "M1.01,-0.08H2.31V0.08H1.01ZM1.58,-0.65H1.74V0.65H1.58ZM1.297,-0.477L2.137,0.363L2.023,0.477L1.183,-0.363ZM1.183,0.363L2.023,-0.477L2.137,-0.363L1.297,0.477Z"
            ]},
          "legend": {
            "title": null, "orient": "none", "legendX": 370, "legendY": 395,
            "strokeColor": "#000000", "fillColor": "#ffffff", "padding": 8, "rowPadding": 12.6,
            "labelFont": "Liberation Sans", "labelFontSize": 20, "labelFontWeight": "bold", "labelColor": "#000000", "labelLimit": 400,
            "symbolSize": 400, "symbolStrokeWidth": 0, "symbolOpacity": 1, "labelOffset": 37}}
      }
    }
  ]
}
